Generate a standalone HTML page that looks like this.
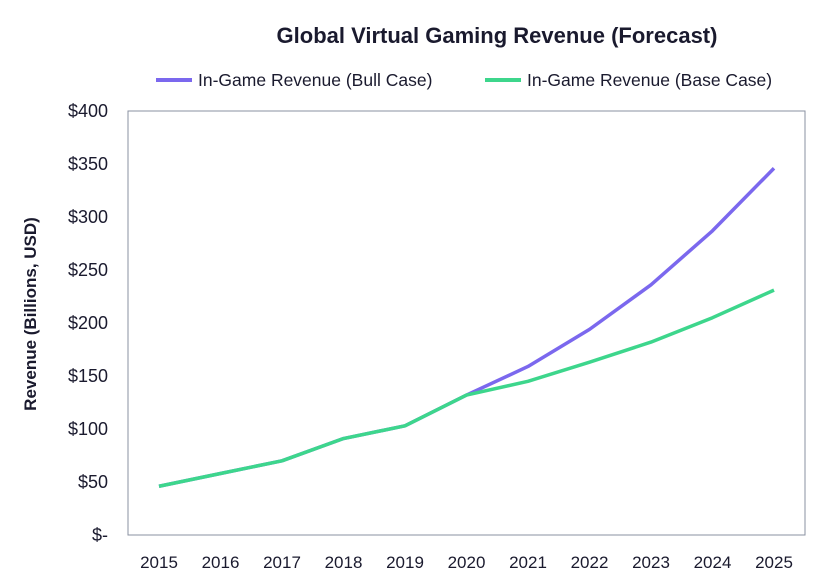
<!DOCTYPE html>
<html><head><meta charset="utf-8"><style>
body{margin:0;background:#fff;}
svg{display:block;font-family:"Liberation Sans",sans-serif;}
</style></head><body>
<svg id="chart" width="823" height="579">
<text x="497" y="43" text-anchor="middle" font-size="22" font-weight="bold" fill="#1a1a2e">Global Virtual Gaming Revenue (Forecast)</text>
<g>
<line x1="156" y1="80" x2="192" y2="80" stroke="#7b68ee" stroke-width="4"/>
<text x="198" y="86" font-size="17.5" fill="#1a1a2e">In-Game Revenue (Bull Case)</text>
<line x1="485" y1="80" x2="521" y2="80" stroke="#3dd68c" stroke-width="4"/>
<text x="527" y="86" font-size="17.5" fill="#1a1a2e">In-Game Revenue (Base Case)</text>
</g>
<rect x="128" y="111" width="677" height="424" fill="none" stroke="#8a90a0" stroke-width="1"/>
<text transform="translate(36,314) rotate(-90)" text-anchor="middle" font-size="17" font-weight="bold" fill="#1a1a2e">Revenue (Billions, USD)</text>
<g id="yt"></g><g id="xt"></g><g id="series"></g>
</svg>
<script>
const years=["2015","2016","2017","2018","2019","2020","2021","2022","2023","2024","2025"];
const bull=[46,58,70,91,103,132,159,194,236,287,346];
const base=[46,58,70,91,103,132,145,163,182,205,231];
const yTicks=[0,50,100,150,200,250,300,350,400];
const yLabels=["$-","$50","$100","$150","$200","$250","$300","$350","$400"];
const NS="http://www.w3.org/2000/svg";
const y=v=>535-v*(424/400);
const x=i=>159+i*61.5;
const yt=document.getElementById('yt'),xt=document.getElementById('xt'),sg=document.getElementById('series');
yTicks.forEach((v,i)=>{const t=document.createElementNS(NS,'text');
t.setAttribute('x',108);t.setAttribute('y',y(v)+6);t.setAttribute('text-anchor','end');t.setAttribute('font-size','18');t.setAttribute('fill','#1a1a2e');


t.textContent=yLabels[i];yt.appendChild(t);});
years.forEach((yr,i)=>{const t=document.createElementNS(NS,'text');
t.setAttribute('x',x(i));t.setAttribute('y',568);t.setAttribute('text-anchor','middle');t.setAttribute('font-size','17');t.setAttribute('fill','#1a1a2e');


t.textContent=yr;xt.appendChild(t);});
function line(d,c,n){const p=document.createElementNS(NS,'polyline');
p.setAttribute('points',d.map((v,i)=>x(i)+','+y(v)).join(' '));
p.setAttribute('fill','none');p.setAttribute('stroke',c);p.setAttribute('stroke-width','3.5');p.setAttribute('stroke-linejoin','round');


sg.appendChild(p);}
line(bull,'#7b68ee','bull-case-line');
line(base,'#3dd68c','base-case-line');
</script>
</body></html>
